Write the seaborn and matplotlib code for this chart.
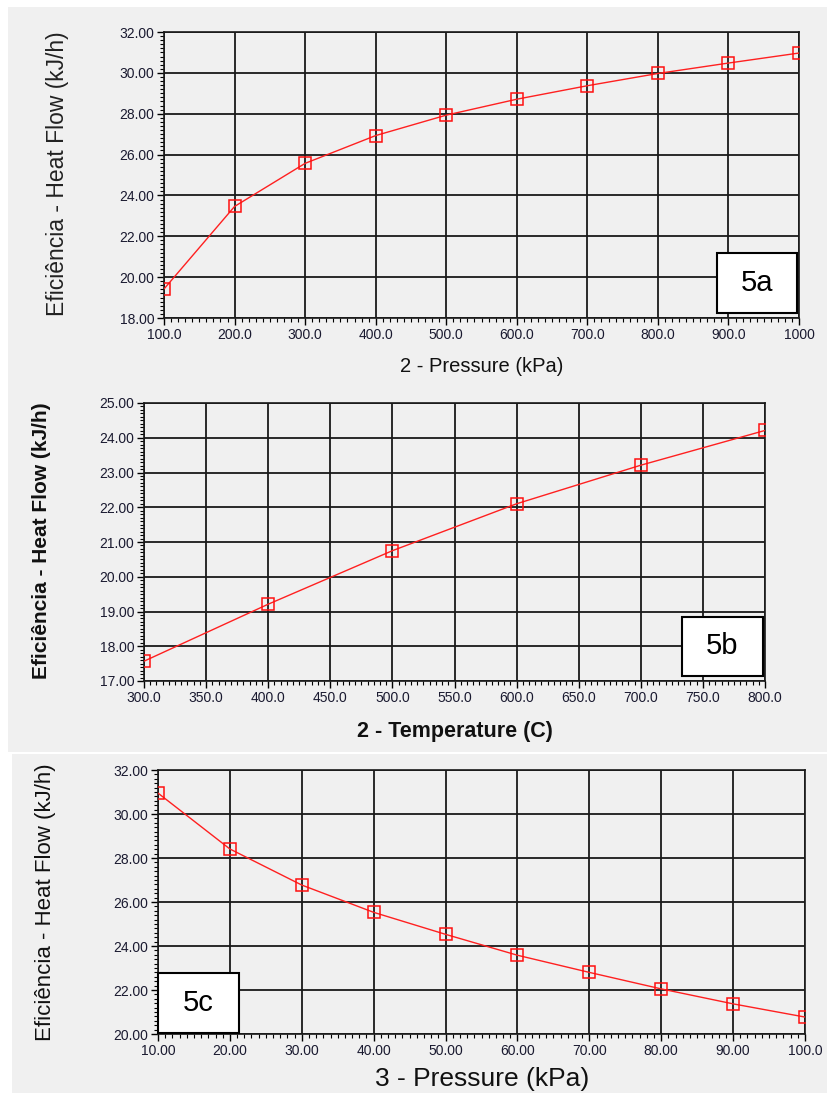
import matplotlib
matplotlib.use('Agg')
import matplotlib.pyplot as plt
import seaborn as sns
import pandas as pd
from matplotlib.patches import Rectangle
from matplotlib.ticker import MultipleLocator, AutoMinorLocator, FuncFormatter

sns.set_style('white')
plt.rcParams['font.family'] = ['Liberation Sans Narrow', 'Liberation Sans', 'DejaVu Sans']

# ---- data ----
pressure2 = [100, 200, 300, 400, 500, 600, 700, 800, 900, 1000]
heat_a = [19.42, 23.46, 25.57, 26.93, 27.93, 28.71, 29.37, 29.97, 30.48, 30.97]

temp2 = [300, 400, 500, 600, 700, 800]
heat_b = [17.57, 19.21, 20.75, 22.10, 23.21, 24.21]

pressure3 = [10, 20, 30, 40, 50, 60, 70, 80, 90, 100]
heat_c = [30.95, 28.41, 26.77, 25.53, 24.53, 23.58, 22.80, 22.05, 21.37, 20.77]

ylabel_txt = "Eficiência - Heat Flow (kJ/h)"
xlabels = ["2 - Pressure (kPa)", "2 - Temperature (C)", "3 - Pressure (kPa)"]
tags = ["5a", "5b", "5c"]

W, H = 827, 1093
fig = plt.figure(figsize=(W / 100, H / 100), dpi=100, facecolor='white')
GRAY = '#f0f0f0'


def frect(l, t, r, b):
    return [l / W, 1 - b / H, (r - l) / W, (b - t) / H]


def bg(l, t, r, b, color=GRAY):
    fig.add_artist(Rectangle((l / W, 1 - b / H), (r - l) / W, (b - t) / H,
                             transform=fig.transFigure, facecolor=color,
                             edgecolor='none', zorder=0))


def fmt5(v, pos, dec):
    s = f"{v:.{dec}f}"[:5]
    return s.rstrip('.')


bg(8, 7, 827, 378)
bg(8, 378, 827, 752)
bg(12, 754, 827, 1093)


def panel(box, x, y, xmaj, ymaj, xdec, ydec, xlim, ylim):
    ax = fig.add_axes(frect(*box))
    ax.set_facecolor(GRAY)
    df = pd.DataFrame({'x': x, 'y': y})
    sns.lineplot(data=df, x='x', y='y', ax=ax, color='#ff2020', lw=1.0,
                 marker='s', markersize=8, markerfacecolor='none',
                 markeredgecolor='#ff1010', markeredgewidth=1.1, zorder=5)
    ax.set_xlim(*xlim)
    ax.set_ylim(*ylim)
    ax.xaxis.set_major_locator(MultipleLocator(xmaj))
    ax.yaxis.set_major_locator(MultipleLocator(ymaj))
    ax.xaxis.set_minor_locator(AutoMinorLocator(10))
    ax.yaxis.set_minor_locator(AutoMinorLocator(10))
    ax.xaxis.set_major_formatter(FuncFormatter(lambda v, p: fmt5(v, p, xdec)))
    ax.yaxis.set_major_formatter(FuncFormatter(lambda v, p: fmt5(v, p, ydec)))
    ax.grid(True, which='major', color='#1a1a1a', lw=1.3)
    ax.tick_params(which='major', direction='out', length=5, width=1, color='black',
                   labelsize=10, labelcolor='#1a1a30', pad=2,
                   bottom=True, left=True)
    ax.tick_params(which='minor', direction='out', length=3, width=0.8, color='black',
                   bottom=True, left=True)
    for s in ax.spines.values():
        s.set_color('#1a1a1a')
        s.set_linewidth(1.2)
    ax.set_xlabel('')
    ax.set_ylabel('')
    return ax


ax1 = panel((164, 32, 799, 318), pressure2, heat_a, 100, 2, 1, 2, (100, 1000), (18, 32))
ax2 = panel((144, 403, 765, 681), temp2, heat_b, 50, 1, 1, 2, (300, 800), (17, 25))
ax3 = panel((158, 770, 805, 1034), pressure3, heat_c, 10, 2, 2, 2, (10, 100), (20, 32))


def ftext(x, y, s, **kw):
    fig.text(x / W, 1 - y / H, s, ha='center', va='center', **kw)


# y labels
ftext(58, 174, ylabel_txt, rotation=90, fontsize=16.5, color='#222222',
      family=['Liberation Sans', 'DejaVu Sans'])
ftext(42, 541, ylabel_txt, rotation=90, fontsize=15, fontweight='bold', color='#111111')
ftext(46, 902, ylabel_txt, rotation=90, fontsize=16, color='#111111')

# x labels
ftext(482, 366, xlabels[0], fontsize=14.5, color='#111111')
ftext(455, 731, xlabels[1], fontsize=15.5, fontweight='bold', color='#111111')
ftext(482, 1079, xlabels[2], fontsize=19, color='#111111')

# tag boxes
for (l, t, r, b), tag in zip([(717, 253, 797, 313), (682, 617, 763, 676), (158, 973, 239, 1033)], tags):
    fig.add_artist(Rectangle((l / W, 1 - b / H), (r - l) / W, (b - t) / H,
                             transform=fig.transFigure, facecolor='white',
                             edgecolor='black', lw=1.5, zorder=10))
    fig.text((l + r) / 2 / W, 1 - (t + b) / 2 / H, tag, ha='center', va='center',
             fontsize=21, color='black', zorder=11,
             family=['Liberation Sans', 'DejaVu Sans'])

fig.savefig('out.png', dpi=100, facecolor='white')
